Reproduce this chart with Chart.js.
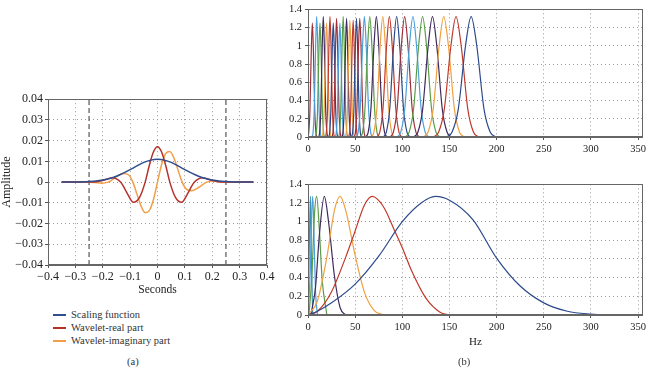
<!DOCTYPE html>
<html>
<head>
<meta charset="utf-8">
<script src="https://cdn.jsdelivr.net/npm/chart.js@4"></script>
<style>
  body { margin: 0; background: #fff; width: 649px; height: 368px; position: relative; overflow: hidden;
         font-family: "Liberation Serif", "Times New Roman", serif; color: #333; }
  canvas { position: absolute; }
  .t { position: absolute; font-size: 10.5px; line-height: 12px; white-space: nowrap; }
  .sw { position: absolute; width: 13px; height: 1.5px; }
</style>
</head>
<body>
<canvas id="ca" width="278" height="215" style="left:0;top:90px"></canvas>
<canvas id="cb1" width="389" height="160" style="left:260px;top:0"></canvas>
<canvas id="cb2" width="389" height="193" style="left:260px;top:175px"></canvas>

<div class="sw" style="left:53px;top:314px;background:#2f4d8f"></div>
<div class="t" style="left:71px;top:309px">Scaling function</div>
<div class="sw" style="left:53px;top:327px;background:#b5322c"></div>
<div class="t" style="left:71px;top:322px">Wavelet-real part</div>
<div class="sw" style="left:53px;top:340px;background:#f0a04b"></div>
<div class="t" style="left:71px;top:335px">Wavelet-imaginary part</div>
<div class="t" style="left:127px;top:356px">(a)</div>
<div class="t" style="left:458px;top:356px">(b)</div>

<script>
// (a) wavelet in time
const markerLines = [-0.25, 0.25];
const scalingFn = [[-0.35, 0], [-0.3, 0.00005], [-0.275, 0.0001], [-0.25, 0.00025], [-0.225, 0.0005],
  [-0.2, 0.001], [-0.175, 0.0017], [-0.15, 0.0028], [-0.125, 0.0043], [-0.1, 0.006], [-0.075, 0.0078],
  [-0.05, 0.0095], [-0.025, 0.0106], [0, 0.011], [0.025, 0.0106], [0.05, 0.0095], [0.075, 0.0078],
  [0.1, 0.006], [0.125, 0.0043], [0.15, 0.0028], [0.175, 0.0017], [0.2, 0.001], [0.225, 0.0005],
  [0.25, 0.00025], [0.275, 0.0001], [0.3, 0.00005], [0.35, 0]];
const waveletReal = [[-0.35, 0], [-0.26, 0], [-0.23, 0.0001], [-0.2, 0.0008], [-0.165, 0.0021],
  [-0.135, 0], [-0.12, -0.0031], [-0.11, -0.0056], [-0.088, -0.0097], [-0.065, -0.0072], [-0.045, 0],
  [-0.03, 0.008], [-0.015, 0.0145], [0, 0.017], [0.015, 0.0145], [0.03, 0.008], [0.045, 0],
  [0.065, -0.0072], [0.088, -0.0097], [0.11, -0.0056], [0.12, -0.0031], [0.135, 0], [0.165, 0.0021],
  [0.2, 0.0008], [0.23, 0.0001], [0.26, 0], [0.35, 0]];
const waveletImag = [[-0.35, 0], [-0.26, 0], [-0.23, -0.0002], [-0.205, -0.0005], [-0.18, 0],
  [-0.15, 0.0026], [-0.125, 0.0042], [-0.105, 0.0034], [-0.09, 0], [-0.075, -0.0058], [-0.06, -0.0116],
  [-0.045, -0.0148], [-0.03, -0.0138], [-0.015, -0.0085], [0, 0], [0.015, 0.0085], [0.03, 0.0138],
  [0.045, 0.0148], [0.06, 0.0116], [0.075, 0.0058], [0.09, 0], [0.105, -0.0034], [0.125, -0.0042],
  [0.15, -0.0026], [0.18, 0], [0.205, 0.0005], [0.23, 0.0002], [0.26, 0], [0.35, 0]];

// (b) top: filter bank, centre / peak / spread of each band (highest first)
const topCenters = [173, 157, 144, 132, 121.5, 111.3, 102.5, 94, 86.3, 79.3, 72.5, 65.5, 59.8,
  54.9, 51.4, 47.9, 44.4, 40.9, 37.3, 33.8, 30.3, 26.8, 23.3, 19.7, 16.2, 12.7, 9.2, 4.6];
const topPeaks = [1.32, 1.32, 1.32, 1.32, 1.32, 1.32, 1.32, 1.32, 1.32, 1.32, 1.32, 1.32, 1.32,
  1.3, 1.3, 1.28, 1.28, 1.3, 1.32, 1.25, 1.3, 1.25, 1.32, 1.25, 1.32, 1.25, 1.32, 1.25];
const topSpread = [8.0, 7.3, 6.6, 6.1, 5.6, 5.1, 4.7, 4.3, 4.0, 3.7, 3.4, 3.0, 2.6,
  1.8, 1.6, 1.5, 1.5, 1.5, 1.5, 1.5, 1.5, 1.5, 1.5, 1.5, 1.5, 1.5, 1.5, 1.5];
// bell outline of one band: offset in spreads, height as share of peak
const bandOffsets = [-3.3, -2.54, -1.71, -0.74, 0, 0.74, 1.71, 2.54, 3.3];
const bandShares = [0, 0.04, 0.23, 0.76, 1, 0.76, 0.23, 0.04, 0];

// (b) bottom: wavelet bands, highest first
const lowBands = [
  [[0, 0], [10, 0.04], [25, 0.13], [50, 0.33], [75, 0.63], [100, 1.0], [120, 1.2], [135, 1.27], [150, 1.23],
   [175, 1.02], [200, 0.61], [225, 0.31], [250, 0.13], [275, 0.04], [300, 0.01], [325, 0]],
  [[0, 0], [10, 0.04], [25, 0.25], [40, 0.62], [50, 0.9], [60, 1.18], [68, 1.27], [80, 1.16], [92, 0.9],
   [100, 0.72], [110, 0.47], [125, 0.18], [140, 0.03], [150, 0]],
  [[0, 0], [10, 0.15], [20, 0.62], [28, 1.12], [34, 1.27], [40, 1.12], [50, 0.64], [60, 0.24], [70, 0.05], [80, 0]],
  [[3, 0], [8, 0.3], [12, 0.85], [17.3, 1.27], [22, 0.98], [28, 0.42], [34, 0.08], [40, 0]],
  [[1, 0], [4, 0.4], [7, 1.1], [9.2, 1.27], [12, 0.92], [15, 0.38], [20, 0]],
  [[0, 0], [2.5, 0.5], [4, 1.1], [5, 1.27], [6.5, 0.8], [8, 0.25], [10, 0]],
  [[0, 0], [1.5, 0.8], [2.6, 1.27], [3.6, 0.6], [5, 0]],
];
const lowColors = ['#2c4a8c', '#c0392b', '#f0a040', '#3f2b5e', '#5a9c47', '#4a9fdc', '#3c8fb0'];

// tick labels
const hzTicks = [0, 50, 100, 150, 200, 250, 300, 350];
const hzMax = 355;

const palette = ['#2c4a8c', '#c0392b', '#f0a040', '#3f2b5e', '#5a9c47', '#4a9fdc', '#9e2f3a'];
const serif = '"Liberation Serif", "Times New Roman", serif';

const frame = {
  id: 'frame',
  afterDatasetsDraw(chart) {
    const { ctx, chartArea: a } = chart;
    ctx.save();
    ctx.strokeStyle = '#666';
    ctx.lineWidth = 1;
    ctx.strokeRect(Math.round(a.left) + 0.5, Math.round(a.top) + 0.5,
      Math.round(a.right - a.left) - 1, Math.round(a.bottom - a.top) - 1);
    ctx.restore();
  },
};

const minus = s => s.replace('-', '\u2212');

function axis(min, max, step, opts) {
  return {
    type: 'linear', min, max,
    ticks: {
      stepSize: step, color: '#222', padding: opts.pad, autoSkip: false, maxRotation: 0,
      font: { family: serif, size: opts.size },
      callback: opts.fmt,
    },
    grid: { color: '#9a9a9a', lineWidth: 1, drawTicks: true, tickLength: 3, tickColor: '#555', tickBorderDash: [] },
    border: { display: true, color: '#666', dash: [1, 3] },
    title: opts.title ? { display: true, text: opts.title, color: '#222',
      font: { family: serif, size: opts.titleSize || 11, lineHeight: 1.2 }, padding: opts.titlePad } : { display: false },
    afterBuildTicks: opts.values ? s => { s.ticks = opts.values.map(v => ({ value: v })); } : undefined,
    afterFit: opts.fit,
  };
}

function line(points, color, width) {
  return {
    data: points.map(p => ({ x: p[0], y: p[1] })),
    borderColor: color, borderWidth: width || 1.3,
    pointRadius: 0, fill: false, cubicInterpolationMode: 'monotone',
  };
}

function baseOptions(padding, scales) {
  return {
    responsive: false, animation: false,
    layout: { padding },
    plugins: { legend: { display: false }, tooltip: { enabled: false } },
    scales,
  };
}

// ---- (a)
const aSets = [
  line(scalingFn, '#2f4d8f', 1.5),
  line(waveletReal, '#b5322c', 1.5),
  line(waveletImag, '#f0a04b', 1.5),
];
markerLines.forEach(x => aSets.push({
  data: [{ x, y: -0.04 }, { x, y: 0.04 }], borderColor: '#555', borderWidth: 1.2,
  borderDash: [5, 3], pointRadius: 0, fill: false,
}));
new Chart(document.getElementById('ca'), {
  type: 'line',
  data: { datasets: aSets },
  options: baseOptions({ top: 6, right: 11, left: 0, bottom: 0 }, {
    x: axis(-0.4, 0.4, 0.1, {
      size: 12, pad: 2, title: 'Seconds', titleSize: 11.5, titlePad: { top: 0, bottom: 8 },
      fmt: v => Math.abs(v) < 1e-9 ? '0' : minus(v.toFixed(1)),
      fit: s => { s.height = 40; },
    }),
    y: axis(-0.04, 0.04, 0.01, {
      size: 12, pad: 2, title: 'Amplitude', titleSize: 12, titlePad: { top: 0, bottom: 0 },
      fmt: v => Math.abs(v) < 1e-9 ? '0' : minus(v.toFixed(2)),
      fit: s => { s.width = 48; },
    }),
  }),
  plugins: [frame],
});

// ---- (b) top
const hzFmt = v => String(Math.round(v));
const ampFmt = v => String(Math.round(v * 10) / 10);
const b1Sets = [line([[0, 0], [hzMax, 0]], '#3f2b5e', 1.6)];
topCenters.forEach((c, i) => {
  const pts = bandOffsets.map((o, k) => [c + o * topSpread[i], bandShares[k] * topPeaks[i]]);
  b1Sets.push(line(pts, palette[i % palette.length], 1.2));
});
new Chart(document.getElementById('cb1'), {
  type: 'line',
  data: { datasets: b1Sets },
  options: baseOptions({ top: 4, right: 5, left: 0, bottom: 0 }, {
    x: axis(0, hzMax, 50, { size: 10.5, pad: 3, fmt: hzFmt, values: hzTicks, fit: s => { s.height = 23; } }),
    y: axis(0, 1.4, 0.2, { size: 10.5, pad: 3, fmt: ampFmt, fit: s => { s.width = 48; } }),
  }),
  plugins: [frame],
});

// ---- (b) bottom
const b2Sets = [line([[0, 0], [hzMax, 0]], '#4a9fdc', 1.6)];
lowBands.forEach((b, i) => b2Sets.push(line(b, lowColors[i], 1.2)));
new Chart(document.getElementById('cb2'), {
  type: 'line',
  data: { datasets: b2Sets },
  options: baseOptions({ top: 6, right: 5, left: 0, bottom: 0 }, {
    x: axis(0, hzMax, 50, {
      size: 10.5, pad: 3, title: 'Hz', titlePad: { top: 0, bottom: 19 },
      fmt: hzFmt, values: hzTicks, fit: s => { s.height = 53; },
    }),
    y: axis(0, 1.4, 0.2, { size: 10.5, pad: 3, fmt: ampFmt, fit: s => { s.width = 48; } }),
  }),
  plugins: [frame],
});
</script>
</body>
</html>
